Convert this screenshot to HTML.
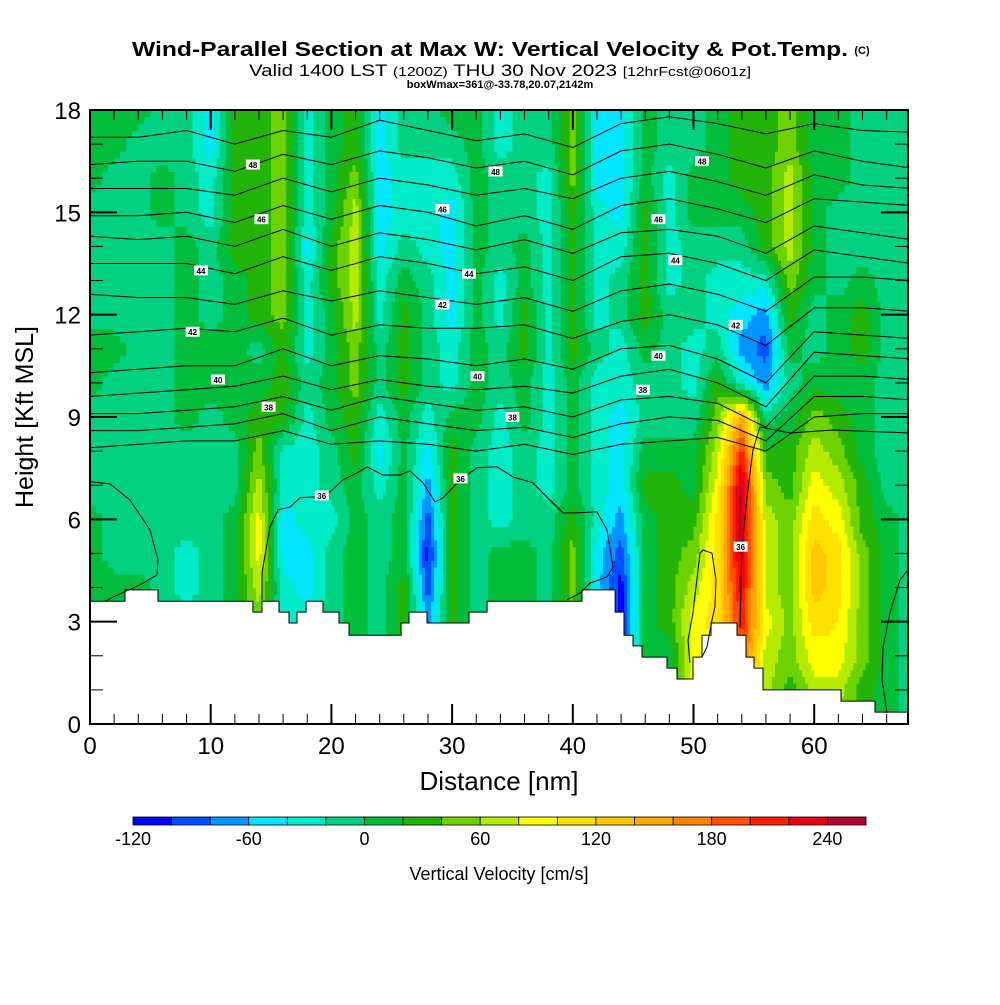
<!DOCTYPE html>
<html><head><meta charset="utf-8"><style>
body{margin:0;background:#fff;}
svg text{font-family:"Liberation Sans",sans-serif;}
</style></head><body>
<svg id="chart" width="1000" height="1000" viewBox="0 0 1000 1000" xmlns="http://www.w3.org/2000/svg">
<rect x="0" y="0" width="1000" height="1000" fill="#fff"/>
<text x="490" y="56" font-size="20" font-weight="bold" text-anchor="middle" textLength="716" lengthAdjust="spacingAndGlyphs">Wind-Parallel Section at Max W: Vertical Velocity &amp; Pot.Temp.</text>
<text x="862" y="54" font-size="11" font-weight="bold" text-anchor="middle">(C)</text>
<text x="500" y="76" font-size="17" text-anchor="middle" textLength="502" lengthAdjust="spacingAndGlyphs">Valid 1400 LST <tspan font-size="13">(1200Z)</tspan> THU 30 Nov 2023 <tspan font-size="13">[12hrFcst@0601z]</tspan></text>
<text x="500" y="88" font-size="11" font-weight="bold" text-anchor="middle">boxWmax=361@-33.78,20.07,2142m</text>
<defs><clipPath id="plotclip"><rect x="90" y="110" width="818" height="614"/></clipPath></defs>
<g id="field" clip-path="url(#plotclip)"></g>
<g id="terrain" clip-path="url(#plotclip)"></g>
<g id="contours" clip-path="url(#plotclip)"></g>
<g id="labels"></g>
<g id="axes"></g>
<text x="499" y="790" font-size="26" text-anchor="middle">Distance [nm]</text>
<text transform="translate(33,417) rotate(-90)" font-size="25" text-anchor="middle">Height [Kft MSL]</text>
<g id="colorbar"></g>
<text x="499" y="880" font-size="18" text-anchor="middle">Vertical Velocity [cm/s]</text>
</svg>
<script>
// ---- data ----
const gridX = [0,2,4,6,8,10,12,14,16,18,20,22,24,26,28,30,32,34,36,38,40,42,44,46,48,50,52,54,56,58,60,62,64,66,68];
const gridH = [0,1,2,3,4,5,6,7,8,9,10,11,12,13,14,15,16,17,18];
// vertical velocity columns (cm/s), bottom (0 kft) to top (18 kft)
const wCols = [
[10,10,10,10,10,10,10,-10,-10,-10,10,10,-10,-10,-10,-10,10,10,10],
[10,10,10,10,10,-10,-10,-10,-10,-10,-10,10,-10,-10,-10,-10,-10,10,10],
[10,10,10,10,10,-10,-10,-10,-10,-10,-10,-10,-10,-10,-10,-10,-10,-10,10],
[10,10,10,-10,-10,-10,-10,-10,-10,-10,-10,-10,-10,-10,-10,10,10,-10,-10],
[-10,-10,-10,-10,-30,-30,-10,-10,-10,10,10,10,10,10,10,-10,-10,-10,-10],
[-10,-10,-10,-10,-10,-10,-10,-10,-10,-10,10,10,-10,-10,-10,-30,-30,-50,-50],
[10,10,10,10,10,10,10,-10,-10,10,10,10,10,10,30,30,30,30,30],
[50,50,50,50,70,90,90,70,50,30,10,-10,30,30,30,30,30,30,30],
[-30,-30,-30,-30,-30,-50,-50,-30,-30,30,30,30,50,50,50,50,50,50,50],
[-30,-30,-30,-30,-50,-50,-30,-30,-30,-30,-10,-30,-30,-30,-50,-30,-30,-30,-30],
[-10,-10,-10,-10,-10,-10,-30,-10,-10,10,10,10,10,30,30,10,10,10,10],
[10,10,10,10,10,10,10,10,30,30,50,50,70,70,70,70,50,30,30],
[-10,-10,-10,-10,-10,-10,-10,-30,-50,-30,-10,-10,-30,-30,-50,-50,-50,-50,-50],
[30,30,30,30,30,10,10,10,10,10,30,30,30,10,-10,-30,-30,-10,-10],
[-70,-70,-70,-70,-90,-110,-90,-70,-50,-30,-10,-10,-10,-10,-30,-30,-30,-10,-10],
[30,30,30,30,30,30,30,30,30,10,-30,-30,-50,-50,-50,-50,-30,-10,10],
[-10,-10,-10,-10,-10,-10,-10,-10,-10,10,10,10,10,10,10,10,10,10,10],
[10,10,10,10,10,10,-30,-30,-30,-30,-10,-10,-30,-30,-10,-10,-10,-30,-30],
[10,10,10,10,10,10,-10,-10,-10,10,10,30,30,10,10,-10,-10,-10,-10],
[-10,-10,-10,-10,-10,-10,-10,-30,-30,-30,-30,-30,-30,-30,-30,-30,-30,-10,-10],
[30,30,30,30,50,50,30,10,10,10,10,30,30,30,30,30,50,50,50],
[-30,-30,-30,-30,-50,-50,-30,-30,-30,-30,-30,-10,-30,-30,-30,-30,-50,-50,-50],
[-90,-90,-90,-110,-110,-90,-70,-50,-50,-50,-30,-30,-10,-10,-30,-50,-50,-50,-50],
[10,10,10,10,10,10,10,30,10,-10,-10,10,30,30,30,30,10,10,10],
[10,10,10,30,30,30,30,30,10,-10,-10,-10,-10,-30,-30,-30,-30,-10,-10],
[90,90,90,90,70,50,30,10,10,-10,-30,-30,-10,-10,-10,10,10,-10,-10],
[50,70,90,110,110,110,110,90,70,50,30,-10,-30,-30,-10,10,10,10,10],
[150,170,190,210,230,250,250,250,210,150,-30,-70,-50,-30,-10,10,30,30,30],
[70,70,70,90,70,70,70,50,30,-10,-70,-90,-70,-30,30,30,30,30,30],
[30,30,50,50,50,50,50,30,30,10,-10,10,30,50,70,70,70,50,50],
[50,70,90,110,130,130,110,90,70,50,10,-10,-10,10,10,10,10,10,10],
[50,70,90,100,110,110,90,70,50,30,10,10,10,-10,-10,-10,10,10,10],
[30,30,50,50,50,50,30,30,10,10,10,30,30,10,-10,-10,-10,-10,-10],
[10,10,10,10,10,10,10,-10,-10,-10,-10,-10,-10,-10,-10,-10,-10,-10,-10],
[-10,-10,-10,-10,-10,-10,-10,-10,-10,-10,-10,-10,-10,-10,-10,-10,-10,-10,-10]
];
const binColors = ["#0000ff","#0050ff","#0096ff","#00e6ff","#00ebc8","#00d282","#00be3c","#23b40a","#6ed200","#b4eb00","#ffff00","#ffe100","#ffc800","#ffaa00","#ff8200","#ff5000","#ff1e00","#eb0014","#b40032"];
const binLabels = [-120,-60,0,60,120,180,240];
const terrainStart = [0,2.9,5.63,13.5,14.25,15.66,16.49,17.15,17.9,19.3,20.63,21.46,25.77,26.43,27.92,31.4,32.9,40.76,43.5,44.24,44.99,45.73,47.8,48.63,49.96,50.7,51.45,53.6,54.35,55.01,55.76,62.22,65.04];
const terrainHeight = [3.6,3.93,3.6,3.28,3.6,3.28,2.96,3.28,3.6,3.28,2.96,2.6,2.96,3.28,2.96,3.28,3.6,3.93,3.28,2.6,2.29,1.96,1.64,1.32,1.96,2.6,2.96,2.6,1.96,1.64,1.0,0.67,0.35];
const thetaX = [0,4,8,12,16,20,24,28,32,36,40,44,48,52,56,60,64,68];
const thetaLines = [
[17.2,17.2,17.4,17.0,17.4,17.2,17.7,17.4,17.1,17.3,16.9,17.6,17.8,17.6,17.3,17.6,17.4,17.35],
[16.4,16.5,16.5,16.2,16.7,16.4,16.8,16.6,16.3,16.5,16.1,16.8,17.0,16.7,16.3,16.8,16.5,16.3],
[15.7,15.7,15.7,15.5,16.0,15.6,16.0,15.8,15.5,15.7,15.4,16.0,16.2,15.9,15.5,16.1,15.8,15.7],
[14.9,14.9,15.0,14.7,15.2,14.8,15.2,15.0,14.6,14.9,14.5,15.2,15.4,15.1,14.7,15.4,15.3,15.2],
[14.3,14.2,14.3,14.0,14.5,14.0,14.4,14.2,13.9,14.2,13.8,14.4,14.5,14.3,13.8,14.6,14.4,14.2],
[13.5,13.5,13.5,13.2,13.7,13.3,13.7,13.5,13.2,13.4,13.0,13.7,13.8,13.5,13.0,13.9,13.7,13.5],
[12.6,12.5,12.5,12.3,12.7,12.4,12.7,12.5,12.3,12.5,12.1,12.7,12.9,12.6,12.1,13.1,13.1,13.0],
[11.4,11.5,11.6,11.5,11.9,11.4,11.7,11.6,11.6,11.7,11.3,11.8,12.0,11.7,11.1,12.2,12.2,12.1],
[10.3,10.4,10.5,10.5,11.0,10.5,10.8,10.7,10.5,10.7,10.4,11.0,11.1,10.7,10.0,11.5,11.4,11.3],
[9.6,9.7,9.8,9.9,10.2,9.8,10.1,9.9,9.8,9.9,9.7,10.2,10.4,10.0,9.3,10.9,10.8,10.7],
[9.1,9.1,9.2,9.3,9.6,9.2,9.6,9.4,9.2,9.3,9.0,9.5,9.6,9.4,8.7,10.2,10.2,10.1],
[8.6,8.6,8.7,8.8,9.1,8.6,9.0,8.8,8.6,8.7,8.4,8.8,9.0,8.9,8.3,9.6,9.6,9.5],
[8.1,8.2,8.3,8.3,8.6,8.2,8.3,8.2,8.0,8.2,7.9,8.2,8.3,8.4,8.0,9.0,9.1,9.1]
];
const curveLeftX = [0,1.66,3.3,4.97,5.63,5.55,4.14,1.9,1.24];
const curveLeftH = [7.1,7.04,6.57,5.69,4.81,4.37,4.08,3.72,3.6];
const curveMidX = [14.25,14.25,14.91,15.58,16.57,17.4,18.81,19.88,20.96,22.12,22.95,24.27,25.68,26.5,27.59,28.58,29.25,30.65,32.06,33.72,35.05,36.7,37.53,39.19,40.35,42.0,42.83,43.33,42.83,41.43,40.6,39.52];
const curveMidH = [3.64,4.43,5.78,6.28,6.36,6.63,6.66,6.8,7.16,7.36,7.54,7.3,7.3,7.42,7.07,6.51,6.63,7.16,7.51,7.54,7.24,7.07,6.77,6.19,6.19,6.22,5.69,4.6,4.31,4.13,3.84,3.64];
const curveLoopX = [49.7,49.54,49.96,50.54,50.79,51.53,51.86,51.77,51.53,51.12,50.7];
const curveLoopH = [1.79,2.46,3.26,5.01,5.1,5.01,4.22,3.43,3.05,2.26,1.96];
const curveBlobX = [53.85,54.02,54.43,54.93,55.51,58.0,61.56,67.94];
const curveBlobH = [2.84,5.19,6.66,8.04,8.71,8.53,8.62,8.53];
const curveRightX = [67.94,67.1,66.28,65.7,65.62,66.03];
const curveRightH = [4.6,4.22,3.26,2.26,1.29,0.32];
const labelText = ["48","46","44","42","40","38","36","48","46","44","42","40","38","36","48","46","44","42","40","38","36"];
const labelX = [13.5,14.2,9.2,8.5,10.6,14.8,19.2,33.6,29.2,31.4,29.2,32.1,35,30.7,50.7,47.1,48.5,53.5,47.1,45.8,53.9];
const labelH = [16.4,14.8,13.3,11.5,10.1,9.3,6.7,16.2,15.1,13.2,12.3,10.2,9.0,7.2,16.5,14.8,13.6,11.7,10.8,9.8,5.2];
const xTicks = [0,10,20,30,40,50,60];
const yTicks = [0,3,6,9,12,15,18];

// ---- scales ----
const X0=90, X1=908, Y0=724, Y1=110, XMAX=67.77, HMAX=18;
const sx = v => X0 + v*(X1-X0)/XMAX;
const sy = h => Y0 - h*(Y0-Y1)/HMAX;
const NS="http://www.w3.org/2000/svg";
function mk(tag, attrs, parent){const e=document.createElementNS(NS,tag);for(const k in attrs)e.setAttribute(k,attrs[k]);parent.appendChild(e);return e;}
function binOf(v){let b=Math.floor((v+120)/20);return Math.max(0,Math.min(18,b));}
function wAt(x,h){
  let i=Math.min(gridX.length-2,Math.max(0,Math.floor(x/2)));let fx=(x-gridX[i])/(gridX[i+1]-gridX[i]);fx=Math.max(0,Math.min(1,fx));
  let j=Math.min(gridH.length-2,Math.max(0,Math.floor(h)));let fy=(h-gridH[j])/(gridH[j+1]-gridH[j]);fy=Math.max(0,Math.min(1,fy));
  const a=wCols[i][j],b=wCols[i+1][j],c=wCols[i][j+1],d=wCols[i+1][j+1];
  return a*(1-fx)*(1-fy)+b*fx*(1-fy)+c*(1-fx)*fy+d*fx*fy;
}
// ---- field ----
const field=document.getElementById('field');
const DX=0.25, DH=0.2;
for(let h=0;h<HMAX;h+=DH){
  let runStart=0, runBin=null;
  const nx=Math.ceil(68/DX);
  for(let k=0;k<=nx;k++){
    const x=k*DX;
    const b = k<nx ? binOf(wAt(x+DX/2,h+DH/2)) : -1;
    if(b!==runBin){
      if(runBin!==null){
        const r=mk('rect',{x:sx(runStart).toFixed(2),y:sy(h+DH).toFixed(2),width:(sx(x)-sx(runStart)+0.6).toFixed(2),height:(sy(h)-sy(h+DH)+0.6).toFixed(2),fill:binColors[runBin]},field);
        
        
      }
      runStart=x;runBin=b;
    }
  }
}
// ---- terrain ----
const terr=document.getElementById('terrain');
let pts=[[sx(0),sy(0)]];
for(let i=0;i<terrainStart.length;i++){
  const xe = i<terrainStart.length-1 ? terrainStart[i+1] : 70;
  pts.push([sx(terrainStart[i]),sy(terrainHeight[i])]);
  pts.push([sx(xe),sy(terrainHeight[i])]);
}
pts.push([sx(70),sy(0)]);
const tp=mk('polygon',{points:pts.map(p=>p[0].toFixed(1)+','+p[1].toFixed(1)).join(' '),fill:'#fff',stroke:'#000','stroke-width':1},terr);


// ---- contours ----
const cg=document.getElementById('contours');
thetaLines.forEach((ln)=>{
  const p=mk('polyline',{points:ln.map((h,i)=>sx(thetaX[i]).toFixed(1)+','+sy(h).toFixed(1)).join(' '),fill:'none',stroke:'#000','stroke-width':1},cg);
  
  
});
[[curveLeftX,curveLeftH],[curveMidX,curveMidH],[curveLoopX,curveLoopH],[curveBlobX,curveBlobH],[curveRightX,curveRightH]].forEach(([xs,hs])=>{
  const p=mk('polyline',{points:xs.map((x,i)=>sx(x).toFixed(1)+','+sy(hs[i]).toFixed(1)).join(' '),fill:'none',stroke:'#000','stroke-width':1},cg);
  
  
});
// ---- contour labels ----
const lg=document.getElementById('labels');
labelText.forEach((t,i)=>{
  const cx=sx(labelX[i]), cy=sy(labelH[i]);
  const r=mk('rect',{x:cx-7,y:cy-5,width:14,height:10,fill:'#fff'},lg);
  
  
  const tx=mk('text',{x:cx,y:cy+3.5,'font-size':8,'font-weight':'bold','text-anchor':'middle'},lg);
  tx.textContent=t;
  
  
});
// ---- axes ----
const ax=document.getElementById('axes');
const frame=mk('rect',{x:X0,y:Y1,width:X1-X0,height:Y0-Y1,fill:'none',stroke:'#000','stroke-width':2},ax);


for(let v=0;v<=67;v+=2){
  const major=v%10===0, L=major?20:10;
  mk('line',{x1:sx(v),y1:Y0,x2:sx(v),y2:Y0-L,stroke:'#000','stroke-width':major?2:1},ax);
  mk('line',{x1:sx(v),y1:Y1,x2:sx(v),y2:Y1+L,stroke:'#000','stroke-width':major?2:1},ax);
}
for(let h=0;h<=18;h++){
  const major=h%3===0, L=major?27:13;
  mk('line',{x1:X0,y1:sy(h),x2:X0+L,y2:sy(h),stroke:'#000','stroke-width':major?2:1},ax);
  mk('line',{x1:X1,y1:sy(h),x2:X1-L,y2:sy(h),stroke:'#000','stroke-width':major?2:1},ax);
}
xTicks.forEach(v=>{
  const t=mk('text',{x:sx(v),y:754,'font-size':24,'text-anchor':'middle'},ax);
  t.textContent=v;
  
  
});
yTicks.forEach(v=>{
  const t=mk('text',{x:81,y:sy(v)+9,'font-size':24,'text-anchor':'end'},ax);
  t.textContent=v;
  
  
});
// ---- colorbar ----
const cb=document.getElementById('colorbar');
const CB0=133, CB1=866, CBW=(CB1-CB0)/binColors.length;
binColors.forEach((c,i)=>{
  const r=mk('rect',{x:CB0+i*CBW,y:817,width:CBW,height:8,fill:c,stroke:'#000','stroke-width':0.8},cb);
  
  
});
binLabels.forEach(v=>{
  const t=mk('text',{x:CB0+(v+120)/20*CBW,y:845,'font-size':18,'text-anchor':'middle'},cb);
  t.textContent=v;
  
  
});
</script>
</body></html>
